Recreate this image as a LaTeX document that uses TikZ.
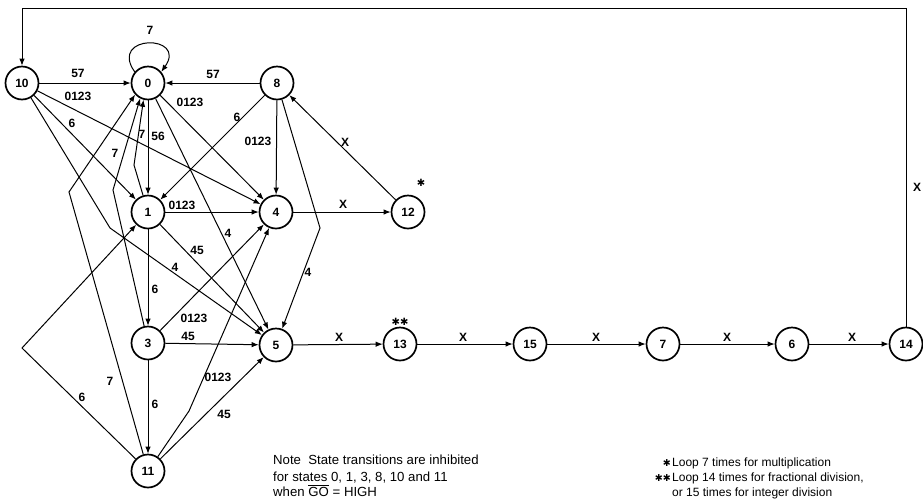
\documentclass[tikz,border=0pt]{standalone}
\usepackage{fontspec}
\setmainfont{Liberation Sans}
\newfontfamily\symfont{DejaVu Sans}
\usetikzlibrary{arrows.meta}
\tikzset{
  state/.style={circle,draw,line width=1.7pt,minimum size=33pt,inner sep=0pt,
    font=\fontsize{12}{12}\selectfont\bfseries},
  conn/.style={line width=1pt,-{Latex[length=7pt,width=5.5pt]}},
  lbl/.style={inner sep=0pt,font=\fontsize{12}{12}\selectfont\bfseries},
  notetext/.style={inner sep=0pt,anchor=base west,font=\fontsize{13.2}{13.2}\selectfont},
  foot/.style={inner sep=0pt,anchor=base west,font=\fontsize{12}{12}\selectfont},
  footstar/.style={inner sep=0pt,anchor=base east,font=\fontsize{9.5}{9.5}\symfont\bfseries},
}
\begin{document}
\begin{tikzpicture}[x=1pt,y=-1pt]
\useasboundingbox (0,0) rectangle (923,499);
% states
\node[state] (n10) at (22,83) {10};
\node[state] (n0)  at (148,83) {0};
\node[state] (n8)  at (277,83) {8};
\node[state] (n1)  at (148,212) {1};
\node[state] (n4)  at (276,212) {4};
\node[state] (n12) at (408,212) {12};
\node[state] (n3)  at (148,343) {3};
\node[state] (n5)  at (276,345) {5};
\node[state] (n13) at (400,344) {13};
\node[state] (n15) at (530,344) {15};
\node[state] (n7)  at (663,344) {7};
\node[state] (n6)  at (792,344) {6};
\node[state] (n14) at (906,344) {14};
\node[state] (n11) at (148,471) {11};
% bend points
\coordinate (b105) at (110,228);
\coordinate (b85)  at (320,228);
\coordinate (b10)  at (134,165);
\coordinate (b30)  at (113,190);
\coordinate (b110) at (69,192);
\coordinate (b111) at (22,348);
\coordinate (b114) at (189,411);
\coordinate (tr) at (906,8);
\coordinate (tl) at (22,8);
% self loop
\draw[conn] (n0.140) .. controls (108,34) and (188,34) .. (n0.40);
% connectors
\draw[conn] (n10) -- (n0);
\draw[conn] (n8) -- (n0);
\draw[conn] (n10) -- (n4);
\draw[conn] (n10) -- (n1);
\draw[conn] (n10) -- (b105) -- (n5);
\draw[conn] (n0) -- (n1);
\draw[conn] (n0) -- (n4);
\draw[conn] (n0) -- (n5);
\draw[conn] (n8) -- (n1);
\draw[conn] (n8) -- (n4);
\draw[conn] (n8) -- (b85) -- (n5);
\draw[conn] (n12) -- (n8);
\draw[conn] (n4) -- (n12);
\draw[conn] (n1) -- (b10) -- (n0.255);
\draw[conn] (n3) -- (b30) -- (n0.243);
\draw[conn] (n11) -- (b110) -- (n0.222);
\draw[conn] (n11) -- (b111) -- (n1);
\draw[conn] (n1) -- (n4);
\draw[conn] (n1) -- (n5);
\draw[conn] (n1) -- (n3);
\draw[conn] (n3) -- (n4);
\draw[conn] (n3) -- (n5);
\draw[conn] (n3) -- (n11);
\draw[conn] (n11) -- (b114) -- (n4);
\draw[conn] (n11) -- (n5);
\draw[conn] (n5) -- (n13);
\draw[conn] (n13) -- (n15);
\draw[conn] (n15) -- (n7);
\draw[conn] (n7) -- (n6);
\draw[conn] (n6) -- (n14);
\draw[conn] (n14) -- (tr) -- (tl) -- (n10);
% labels
\node[lbl] (l1)  at (150,30) {7};
\node[lbl] (l2)  at (78,73) {57};
\node[lbl] (l3)  at (78,96) {0123};
\node[lbl] (l4)  at (213,74) {57};
\node[lbl] (l5)  at (190,102) {0123};
\node[lbl] (l6)  at (72,123) {6};
\node[lbl] (l7)  at (237,117) {6};
\node[lbl] (l8)  at (258,141) {0123};
\node[lbl] (l9)  at (115,153) {7};
\node[lbl] (l10) at (142,134) {7};
\node[lbl] (l11) at (158,136) {56};
\node[lbl] (l12) at (345,142) {X};
\node[lbl] (l13) at (182,205) {0123};
\node[lbl] (l14) at (343,204) {X};
\node[lbl] (l15) at (228,233) {4};
\node[lbl] (l16) at (197,250) {45};
\node[lbl] (l17) at (175,267) {4};
\node[lbl] (l18) at (308,272) {4};
\node[lbl] (l19) at (155,289) {6};
\node[lbl] (l20) at (194,318) {0123};
\node[lbl] (l21) at (188,336) {45};
\node[lbl] (l22) at (218,377) {0123};
\node[lbl] (l23) at (110,381) {7};
\node[lbl] (l24) at (82,397) {6};
\node[lbl] (l25) at (155,404) {6};
\node[lbl] (l26) at (224,414) {45};
\node[lbl] (l27) at (339,337) {X};
\node[lbl] (l28) at (463,337) {X};
\node[lbl] (l29) at (596,337) {X};
\node[lbl] (l30) at (727,337) {X};
\node[lbl] (l31) at (852,337) {X};
\node[lbl] (l32) at (917,187) {X};
\node[inner sep=0pt,font=\fontsize{10}{10}\symfont\bfseries] (s12) at (421,183) {✱};
\node[inner sep=0pt,font=\fontsize{10}{10}\symfont\bfseries] (s13) at (400,322) {✱✱};
% notes
\node[notetext] (t1) at (273,464) {Note\ \ State transitions are inhibited};
\node[notetext] (t2) at (273,481) {for states 0, 1, 3, 8, 10 and 11};
\node[notetext] (t3) at (273,496) {when $\overline{\hbox{GO}}$ = HIGH};
\node[footstar] (f1s) at (671,466) {✱};
\node[foot] (f1) at (672,466) {Loop 7 times for multiplication};
\node[footstar] (f2s) at (671,481) {✱✱};
\node[foot] (f2) at (672,481) {Loop 14 times for fractional division,};
\node[foot] (f3) at (672,496) {or 15 times for integer division};
\end{tikzpicture}
\end{document}
